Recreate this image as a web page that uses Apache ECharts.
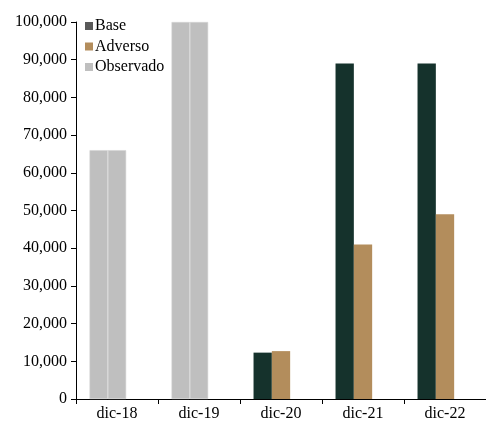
<!DOCTYPE html>
<html><head><meta charset="utf-8">
<script src="https://cdn.jsdelivr.net/npm/echarts@6/dist/echarts.min.js"></script>
<style>html,body{margin:0;padding:0;background:#fff}#c{width:486px;height:424px}</style>
</head><body><div id="c"></div>
<script>
const categories = ['dic-18','dic-19','dic-20','dic-21','dic-22'];
const baseValues = [66000, 100000, 12300, 89000, 89000];
const adversoValues = [66000, 100000, 12700, 41000, 49000];
const observedFlags = [true, true, false, false, false];
const yTicks = [0,10000,20000,30000,40000,50000,60000,70000,80000,90000,100000];

const GRAY = '#BFBFBF', GREEN = '#15322C', TAN = '#B38D5C';
const font = "'Liberation Serif', 'Times New Roman', serif";

function items(vals, color) {
  return vals.map((v, i) => observedFlags[i]
    ? {value: v, itemStyle: {color: GRAY, borderColor: '#d4d4d4', borderWidth: 0.6}}
    : {value: v, itemStyle: {color: color}});
}

const chart = echarts.init(document.getElementById('c'), null, {renderer: 'canvas'});
chart.setOption({
  animation: false,
  textStyle: {fontFamily: font},
  grid: {left: 76, top: 22, bottom: 25, width: 413, containLabel: false},
  legend: {
    orient: 'vertical', left: 80, top: 13, itemWidth: 8, itemHeight: 8, itemGap: 4.5,
    icon: 'rect',
    textStyle: {fontFamily: font, fontSize: 16, color: '#000', padding: [0,0,0,-3]},
    data: [
      {name: 'Base', itemStyle: {color: '#595959'}},
      {name: 'Adverso', itemStyle: {color: TAN}},
      {name: 'Observado', itemStyle: {color: GRAY}}
    ]
  },
  xAxis: {
    type: 'category', data: categories,
    axisLine: {lineStyle: {color: '#000', width: 1}},
    axisTick: {show: true, length: 5, lineStyle: {color: '#000'}},
    axisLabel: {fontFamily: font, fontSize: 16, color: '#000', margin: 7}
  },
  yAxis: {
    type: 'value', min: 0, max: 100000, interval: 10000,
    splitLine: {show: false},
    axisLine: {show: true, lineStyle: {color: '#000', width: 1}},
    axisTick: {show: true, length: 5, lineStyle: {color: '#000'}},
    axisLabel: {fontFamily: font, fontSize: 16, color: '#000', margin: 9,
      formatter: v => v.toLocaleString('en-US')}
  },
  series: [
    {name: 'Base', type: 'bar', data: items(baseValues, GREEN), barGap: '0%', barCategoryGap: '33%',
     itemStyle: {color: '#595959'}},
    {name: 'Adverso', type: 'bar', data: items(adversoValues, TAN), itemStyle: {color: TAN}},
    {name: 'Observado', type: 'bar', data: categories.map(() => null), itemStyle: {color: GRAY}}
  ]
});
</script></body></html>
